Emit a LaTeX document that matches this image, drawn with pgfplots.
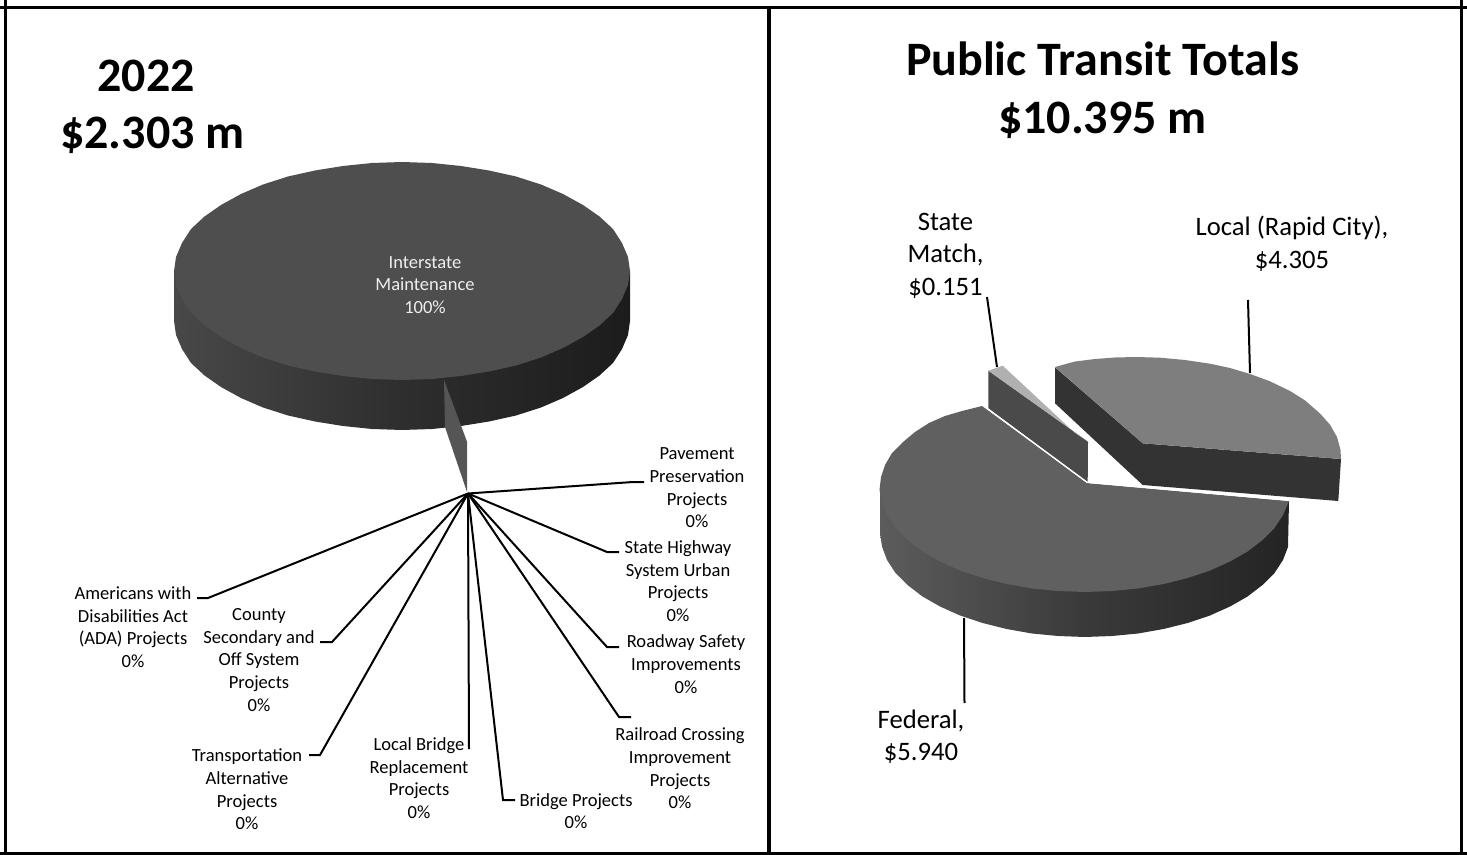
\documentclass[border=0pt]{standalone}
\usepackage{fontspec}
\setmainfont{Carlito}
\usepackage{pgfplots}
\pgfplotsset{compat=1.18}
\definecolor{topL}{HTML}{4E4E4E}
\definecolor{wallLa}{HTML}{484848}
\definecolor{wallLb}{HTML}{2E2E2E}
\definecolor{wallLc}{HTML}{1C1C1C}
\definecolor{wedge}{HTML}{555555}
\definecolor{topF}{HTML}{606060}
\definecolor{wallFa}{HTML}{5C5C5C}
\definecolor{wallFb}{HTML}{3A3A3A}
\definecolor{wallFc}{HTML}{242424}
\definecolor{topLoc}{HTML}{7E7E7E}
\definecolor{sideLoc}{HTML}{333333}
\definecolor{topS}{HTML}{B0B0B0}
\definecolor{sideS}{HTML}{4A4A4A}
\definecolor{inlabel}{HTML}{EEEEEE}
\newcommand{\smalllab}{\fontsize{13.9}{17}\selectfont}
\newcommand{\midlab}{\fontsize{20}{24.4}\selectfont}
\newcommand{\biglab}{\fontsize{36}{43.5}\selectfont\bfseries}
\begin{document}
\begin{tikzpicture}
\begin{axis}[
  scale only axis, width=1100.25pt, height=641.25pt,
  xmin=0, xmax=1467, ymin=0, ymax=855, y dir=reverse,
  hide axis, clip=false,
  nodes={inner sep=0pt, align=center},
  leader/.style={black, line width=1.5pt, line join=miter, no marks},
  frame/.style={black, line width=2.3pt, no marks},
]
% frames
\addplot[frame] coordinates {(0,7.2) (1467,7.2)};
\addplot[frame] coordinates {(0,853.8) (1467,853.8)};
\addplot[frame] coordinates {(5.8,0) (5.8,855)};
\addplot[frame] coordinates {(1461.3,0) (1461.3,855)};
\addplot[frame] coordinates {(769,7) (769,855)};

% ---- left pie: wall
\addplot[draw=none, no marks, left color=wallLa, right color=wallLc, middle color=wallLb] coordinates {
(630,271)(630,321)(628,335)(622,349)(613,363)(599.5,375.5)(583,387)(563,398)(541,407.5)(516,415.5)(489,421.5)(461,426)(432,429)(402,430)(372,429)(343,426)(315,421.5)(288,415.5)(263,407.5)(241,398)(221,387)(204.5,375.5)(191,363)(182,349)(176,335)(174,321)(174,271)} --cycle;
% ---- left pie: top
\addplot[draw=none, no marks, fill=topL] coordinates {
(630,271)(628,285)(622,299)(613,313)(599.5,325.5)(583,337)(563,348)(541,357.5)(516,365.5)(489,371.5)(461,376)(432,379)(402,380)(372,379)(343,376)(315,371.5)(288,365.5)(263,357.5)(241,348)(221,337)(204.5,325.5)(191,313)(182,299)(176,285)(174,271)
(176,257)(182,243)(191,229)(204.5,216.5)(221,205)(241,194)(263,184.5)(288,176.5)(315,170.5)(343,166)(372,163)(402,162)(432,163)(461,166)(489,170.5)(516,176.5)(541,184.5)(563,194)(583,205)(599.5,216.5)(613,229)(622,243)(628,257)} --cycle;
% ---- left pie: sliver
\addplot[draw=none, no marks, fill=wedge] coordinates {(444,380)(467,441.7)(467,492)(445,427)} --cycle;

% ---- left leaders
\addplot[leader] coordinates {(197,598)(208,598)(468,493.5)};
\addplot[leader] coordinates {(320,642)(332,642)(468,493.5)};
\addplot[leader] coordinates {(309,755)(320,755)(468,493.5)};
\addplot[leader] coordinates {(469,749)(468,493.5)};
\addplot[leader] coordinates {(515,800)(503,800)(468,493.5)};
\addplot[leader] coordinates {(631,717)(619,717)(468,493.5)};
\addplot[leader] coordinates {(619,647)(607,647)(468,493.5)};
\addplot[leader] coordinates {(619,552)(607,552)(468,493.5)};
\addplot[leader] coordinates {(644,482)(633,482)(468,493.5)};

% ---- right pie: federal wall
\addplot[draw=none, no marks, left color=wallFa, right color=wallFc, middle color=wallFb] coordinates {
(1289,501)(1288,547)(1283,560)(1274.5,573)(1262.5,585)(1247.5,596.5)(1230,606.5)(1210,615.5)(1187.5,623)(1163.5,629)(1138,633.5)(1112,636)(1085,637)(1058,636)(1032,633.5)(1006.5,629)(982.5,623)(960,615.5)(940,606.5)(922.5,596.5)(907.5,585)(895.5,573)(887,560)(882,546.5)(880,533)(880,488)} --cycle;
% federal top
\addplot[draw=none, no marks, fill=topF] coordinates {
(1289,501)(1283,515)(1274.5,528)(1262.5,540)(1247.5,551.5)(1230,561.5)(1210,570.5)(1187.5,578)(1163.5,584)(1138,588.5)(1112,591)(1085,592)(1058,591)(1032,588.5)(1006.5,584)(982.5,578)(960,570.5)(940,561.5)(922.5,551.5)(907.5,540)(895.5,528)(887,515)(882,501.5)(879.5,490)
(881,477)(885,465)(892,453)(903,442)(915,432)(929,423)(945,416)(962,411)(982,406)(1087,483)} --cycle;
% state match
\addplot[draw=none, no marks, fill=sideS] coordinates {(988.3,370.7)(988.3,408.3)(1087.7,481.7)(1088,441.7)} --cycle;
\addplot[draw=none, no marks, fill=topS] coordinates {(988.3,370.7)(1002.7,365.7)(1075,433)(1088,441.7)} --cycle;
% white seam beside the federal slice
\addplot[white, line width=0.8pt, no marks] coordinates {(984,406)(1087,482.5)(1289,500.5)};
% local
\addplot[draw=none, no marks, fill=sideLoc] coordinates {(1055,367.3)(1055,403.3)(1142.7,485)(1338.3,501)(1341,459)(1142.7,443.3)} --cycle;
\addplot[draw=none, no marks, fill=topLoc] coordinates {
(1055,367)(1075,361.5)(1095,359)(1115,357.5)(1136,357)(1160,357.7)(1185,360)(1210,363.7)(1230,368)(1250,374)(1270,381.3)(1290,391)(1305,400.4)(1320,413.5)(1330,424.7)(1337,437)(1340.5,450)(1341,459)(1142.7,443.3)} --cycle;

% ---- right leaders
\addplot[leader] coordinates {(987,297)(997,367)};
\addplot[leader] coordinates {(1248,300)(1250,373)};
\addplot[leader] coordinates {(964,618)(964.5,703)};

% ---- texts
\node[font=\biglab] at (axis cs:146,75.5) {2022};
\node[font=\biglab] at (axis cs:152.5,135.5) {\$2.303 m};
\node[font=\biglab] at (axis cs:1102.5,90) {Public Transit Totals\\\$10.395 m};
\node[font=\smalllab, text=inlabel] at (axis cs:425,285) {Interstate\\Maintenance\\100\%};
\node[font=\smalllab] at (axis cs:697,488) {Pavement\\Preservation\\Projects\\0\%};
\node[font=\smalllab] at (axis cs:678,581) {State Highway\\System Urban\\Projects\\0\%};
\node[font=\smalllab] at (axis cs:686,664) {Roadway Safety\\Improvements\\0\%};
\node[font=\smalllab] at (axis cs:680,768.5) {Railroad Crossing\\Improvement\\Projects\\0\%};
\node[font=\smalllab] at (axis cs:576,811) {Bridge Projects\\0\%};
\node[font=\smalllab] at (axis cs:419,778) {Local Bridge\\Replacement\\Projects\\0\%};
\node[font=\smalllab] at (axis cs:247,789.5) {Transportation\\Alternative\\Projects\\0\%};
\node[font=\smalllab] at (axis cs:259,660) {County\\Secondary and\\Off System\\Projects\\0\%};
\node[font=\smalllab] at (axis cs:133,627) {Americans with\\Disabilities Act\\(ADA) Projects\\0\%};
\node[font=\midlab] at (axis cs:945.5,255.5) {State\\Match,\\\$0.151};
\node[font=\midlab] at (axis cs:1292,243.5) {Local (Rapid City),\\\$4.305};
\node[font=\midlab] at (axis cs:921,736.5) {Federal,\\\$5.940};
\end{axis}
\pgfresetboundingbox
\path[use as bounding box] (0,0) rectangle (1100.25pt,641.25pt);
\end{tikzpicture}
\end{document}
